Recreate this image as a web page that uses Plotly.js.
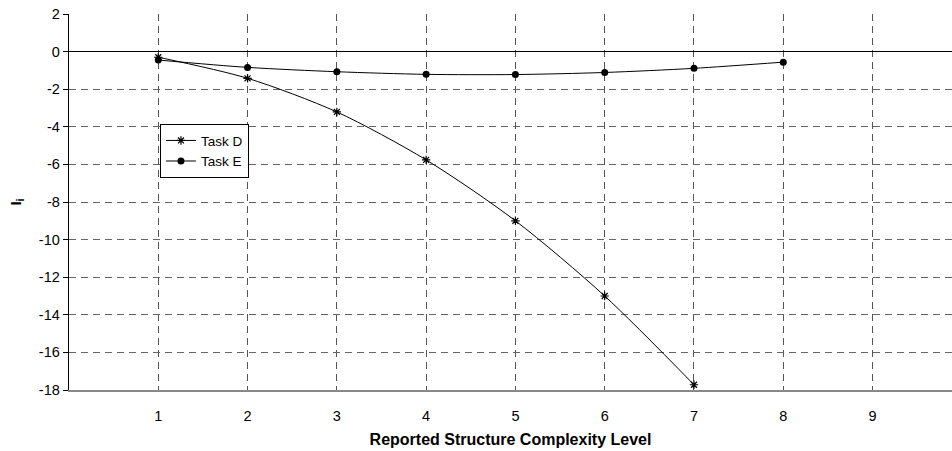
<!DOCTYPE html>
<html>
<head>
<meta charset="utf-8">
<script src="https://cdn.plot.ly/plotly-3.0.1.min.js"></script>
<style>html,body{margin:0;padding:0;background:#fff;}#chart{width:952px;height:451px;}</style>
</head>
<body>
<div id="chart"></div>
<script>
const levels = [1, 2, 3, 4, 5, 6, 7, 8];
const taskDLevels = [1, 2, 3, 4, 5, 6, 7];
const taskD = [-0.3, -1.42, -3.21, -5.76, -9.0, -13.0, -17.72];
const taskE = [-0.45, -0.84, -1.07, -1.21, -1.22, -1.11, -0.89, -0.56];
const xTicks = [1, 2, 3, 4, 5, 6, 7, 8, 9];
const yTicks = [2, 0, -2, -4, -6, -8, -10, -12, -14, -16, -18];

const traces = [
  {
    x: taskDLevels, y: taskD, name: 'Task D', type: 'scatter', mode: 'lines+markers',
    line: {color: '#000', width: 1, shape: 'spline', smoothing: 0.8},
    marker: {symbol: 'asterisk-open', size: 7, color: '#000', line: {color: '#000', width: 1.2}}
  },
  {
    x: levels, y: taskE, name: 'Task E', type: 'scatter', mode: 'lines+markers',
    line: {color: '#000', width: 1, shape: 'spline', smoothing: 0.8},
    marker: {symbol: 'circle', size: 7, color: '#000'}
  }
];

const layout = {
  width: 952, height: 451,
  margin: {l: 69, r: 0, t: 14, b: 61},
  paper_bgcolor: '#fff', plot_bgcolor: '#fff',
  font: {family: 'Liberation Sans, Arial, sans-serif', size: 13, color: '#000'},
  showlegend: true,
  legend: {
    x: 0.103, y: 0.707, xanchor: 'left', yanchor: 'top',
    bgcolor: '#fff', bordercolor: '#000', borderwidth: 1,
    font: {size: 13.5}, tracegroupgap: 0, itemwidth: 30
  },
  xaxis: {
    range: [0, 9.89], tickvals: xTicks, ticktext: xTicks.map(String),
    showgrid: true, gridcolor: '#555', griddash: '7px,5px', gridwidth: 1,
    zeroline: false, showline: true, linecolor: '#888', linewidth: 1.5,
    ticks: '', ticklen: 0, tickfont: {size: 14.5}, ticklabelstandoff: 12,
    title: {text: '<b>Reported Structure Complexity Level</b>', font: {size: 16}, standoff: 11}
  },
  yaxis: {
    range: [-18, 2], tickvals: yTicks, ticktext: yTicks.map(String),
    showgrid: true, gridcolor: '#666', griddash: '7px,5px', gridwidth: 1,
    zeroline: true, zerolinecolor: '#000', zerolinewidth: 1.2,
    showline: true, linecolor: '#000', linewidth: 1.3,
    ticks: 'outside', ticklen: 5, tickcolor: '#000', tickfont: {size: 14.5},
    title: {text: '<b>I<sub>i</sub></b>', font: {size: 15}, standoff: 13}
  }
};

Plotly.newPlot('chart', traces, layout, {displayModeBar: false, staticPlot: true});
</script>
</body>
</html>
